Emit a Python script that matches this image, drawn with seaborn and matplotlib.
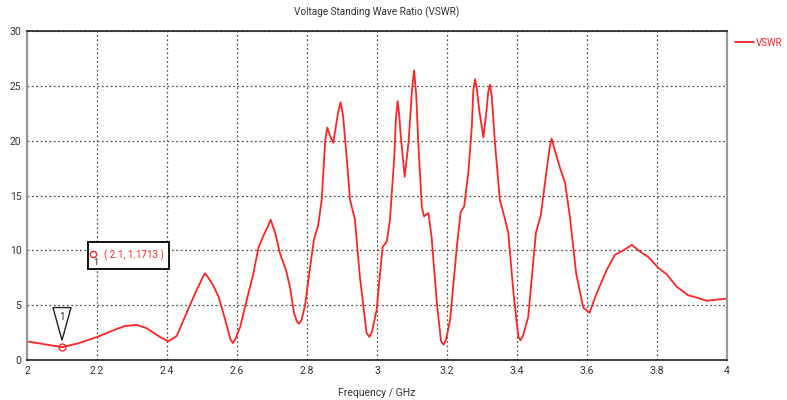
import matplotlib
matplotlib.use("Agg")
import numpy as np
import matplotlib.pyplot as plt
import matplotlib.transforms as mtrans
from matplotlib.patches import Polygon, Rectangle
import seaborn as sns
import pandas as pd

freq = [2.000, 2.100, 2.150, 2.200, 2.246, 2.280, 2.313, 2.342, 2.380, 2.404,
        2.428, 2.456, 2.485, 2.503, 2.509, 2.516, 2.532, 2.547, 2.566, 2.581,
        2.588, 2.595, 2.609, 2.628, 2.647, 2.661, 2.675, 2.690, 2.696, 2.709,
        2.723, 2.740, 2.751, 2.763, 2.771, 2.777, 2.784, 2.794, 2.809, 2.820,
        2.832, 2.842, 2.852, 2.858, 2.865, 2.875, 2.889, 2.896, 2.903, 2.913,
        2.923, 2.937, 2.951, 2.970, 2.978, 2.986, 2.999, 3.016, 3.028, 3.037,
        3.049, 3.054, 3.059, 3.063, 3.068, 3.079, 3.090, 3.100, 3.106, 3.112,
        3.118, 3.128, 3.134, 3.147, 3.156, 3.171, 3.183, 3.190, 3.197, 3.209,
        3.228, 3.239, 3.249, 3.261, 3.271, 3.275, 3.280, 3.285, 3.292, 3.304,
        3.313, 3.318, 3.323, 3.328, 3.337, 3.351, 3.366, 3.375, 3.390, 3.404,
        3.410, 3.417, 3.432, 3.454, 3.468, 3.485, 3.494, 3.499, 3.504, 3.513,
        3.523, 3.537, 3.551, 3.569, 3.589, 3.607, 3.628, 3.656, 3.680, 3.704,
        3.728, 3.751, 3.775, 3.804, 3.828, 3.856, 3.889, 3.913, 3.942, 3.970,
        4.000]
vswr = [1.70, 1.17, 1.55, 2.10, 2.70, 3.10, 3.20, 2.90, 2.10, 1.70,
        2.20, 4.30, 6.40, 7.60, 7.90, 7.60, 6.80, 5.80, 3.70, 1.90,
        1.55, 1.90, 3.00, 5.50, 7.90, 10.2, 11.3, 12.3, 12.8, 11.6,
        9.7, 8.2, 6.7, 4.3, 3.50, 3.3, 3.60, 4.9, 8.5, 11.0,
        12.3, 14.6, 20.0, 21.2, 20.5, 19.8, 22.6, 23.5, 22.3, 18.6,
        14.6, 12.8, 7.6, 2.50, 2.1, 2.60, 4.6, 10.3, 10.8, 12.8,
        18.3, 22.0, 23.6, 22.5, 20.4, 16.7, 19.8, 24.6, 26.4, 24.2,
        19.8, 14.0, 13.1, 13.4, 11.2, 5.2, 1.70, 1.4, 1.80, 3.7,
        10.3, 13.5, 14.0, 17.1, 21.3, 24.5, 25.6, 24.8, 22.8, 20.3,
        22.8, 24.5, 25.1, 24.0, 19.8, 14.6, 12.8, 11.6, 6.1, 2.10,
        1.8, 2.20, 3.9, 11.6, 13.2, 17.4, 19.5, 20.2, 19.6, 18.6,
        17.5, 16.2, 13.1, 7.9, 4.8, 4.3, 6.1, 8.2, 9.6, 10.0,
        10.5, 9.9, 9.4, 8.4, 7.8, 6.7, 5.9, 5.7, 5.4, 5.5,
        5.6]
marker_x = 2.1
marker_y = 1.1713
marker_id = "1"
xticks = [2, 2.2, 2.4, 2.6, 2.8, 3, 3.2, 3.4, 3.6, 3.8, 4]
xticklabels = ["2", "2.2", "2.4", "2.6", "2.8", "3", "3.2", "3.4", "3.6", "3.8", "4"]
yticks = [0, 5, 10, 15, 20, 25, 30]
title = "Voltage Standing Wave Ratio (VSWR)"
xlabel = "Frequency / GHz"
series_name = "VSWR"

sns.set_style("white")
plt.rcParams["font.family"] = ["Roboto", "DejaVu Sans"]

RED = "#ff2424"
TXT = "#333333"

fig = plt.figure(figsize=(7.87, 4.0), dpi=100)
ax = fig.add_axes([27 / 787, 40 / 400, 700 / 787, 329 / 400])

df = pd.DataFrame({"freq": freq, "vswr": vswr})
sns.lineplot(data=df, x="freq", y="vswr", ax=ax, color=RED, lw=1.3,
             label=series_name, sort=False)

ax.set_xlim(2, 4)
ax.set_ylim(0, 30)
ax.set_xticks(xticks)
ax.set_xticklabels(xticklabels)
ax.set_yticks(yticks)
ax.tick_params(length=0, labelsize=7.5, colors=TXT, pad=4)
ax.grid(True, linestyle=(0, (1.5, 2)), color="#555555", lw=0.9)
ax.set_axisbelow(True)

for s in ["top", "bottom"]:
    ax.spines[s].set_color("#222222")
    ax.spines[s].set_linewidth(1.2)
for s in ["left", "right"]:
    ax.spines[s].set_color("#999999")
    ax.spines[s].set_linewidth(1.6)

ax.set_xlabel(xlabel, fontsize=7.5, color=TXT, labelpad=9)
ax.set_ylabel("")
fig.text(377 / 787, 1 - 12 / 400, title, ha="center", va="center",
         fontsize=7.2, color=TXT)

ax.legend(loc="upper left", bbox_to_anchor=(1.012, 0.98), frameon=False,
          handlelength=1.9, handletextpad=0.25, fontsize=7,
          labelcolor="linecolor", borderaxespad=0, borderpad=0)

# marker point on the curve
ax.plot([marker_x], [marker_y], marker="o", ms=5, mfc="none", mec=RED, mew=1.0,
        zorder=5)


class PointOffset(mtrans.Transform):
    """Offsets in points relative to a data location."""
    input_dims = 2
    output_dims = 2

    def __init__(self, x, y):
        super().__init__()
        self.x, self.y = x, y

    def transform_non_affine(self, values):
        x0, y0 = ax.transData.transform((self.x, self.y))
        v = np.asarray(values, dtype=float) * fig.dpi / 72.0
        return v + np.array([x0, y0])


# triangle flag above the marker point
tri = Polygon([(-6.5, 28.5), (6.5, 28.5), (0, 5)], closed=True, fc="white",
              ec="#222222", lw=1.0, transform=PointOffset(marker_x, marker_y),
              zorder=6)
ax.add_patch(tri)
ax.annotate(marker_id, xy=(marker_x, marker_y), xytext=(0, 21.5),
            textcoords="offset points", ha="center", va="center",
            fontsize=7, color="#222222", zorder=7)

# info box
box = Rectangle((18.7, 56.0), 58.5, 19.6, fc="white", ec="#111111", lw=1.4,
                transform=PointOffset(marker_x, marker_y), zorder=6)
ax.add_patch(box)
ax.annotate(f"( {marker_x}, {marker_y} )", xy=(marker_x, marker_y),
            xytext=(30.5, 66), textcoords="offset points", ha="left",
            va="center", fontsize=7, color=RED, zorder=7)
ax.plot([marker_x], [marker_y], marker="o", ms=4.5, mfc="none", mec=RED, mew=1.0,
        transform=mtrans.offset_copy(ax.transData, fig=fig, x=22.5, y=67,
                                     units="points"), zorder=8)
ax.annotate(marker_id, xy=(marker_x, marker_y), xytext=(24, 61),
            textcoords="offset points", ha="center", va="center",
            fontsize=6.5, color="#222222", zorder=8)

fig.savefig("out.png", dpi=100)
